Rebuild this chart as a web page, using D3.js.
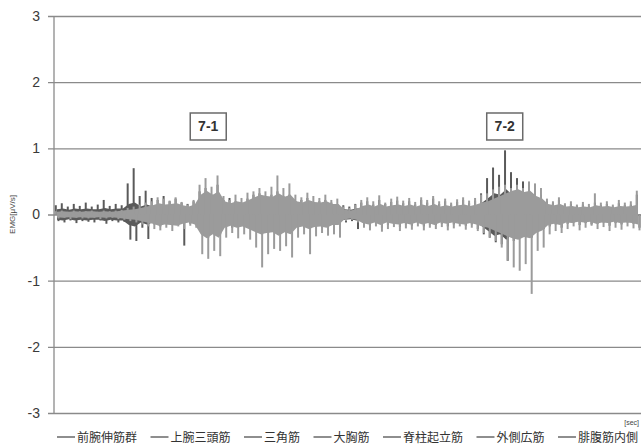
<!DOCTYPE html>
<html>
<head>
<meta charset="utf-8">
<script src="https://cdn.jsdelivr.net/npm/d3@7"></script>
<style>
  body { margin: 0; background: #fff; }
  svg { display: block; }
</style>
</head>
<body>
<div id="chart"></div>
<script>
// legend names (7 muscles)
var seriesNames = ['前腕伸筋群', '上腕三頭筋', '三角筋', '大胸筋', '脊柱起立筋', '外側広筋', '腓腹筋内側'];
var yTicks = [3, 2, 1, 0, -1, -2, -3];

// EMG traces, one value per time bin
// dark trace: upper / lower spike peaks
var darkHi = [0.14,0.17,0.12,0.16,0.13,0.18,0.12,0.15,0.22,0.13,0.16,0.14,
  0.47,0.70,0.28,0.36,
  0.25,0.22,0.28,0.20,0.24,0.18,0.16,0.20,
  0.35,0.40,0.30,0.45,
  0.22,0.25,0.20,0.18,0.24,
  0.30,0.32,0.25,0.30,0.35,0.28,0.30,
  0.20,0.22,0.25,0.18,0.20,0.22,0.18,0.15,
  0.14,0.12,0.16,
  0.18,0.20,0.15,0.22,0.16,0.19,0.21,0.17,0.20,0.15,0.22,0.18,0.24,0.16,0.20,0.15,0.19,0.22,0.17,0.21,
  0.32,0.55,0.71,0.60,0.97,0.64,0.55,0.50,0.45,0.35,0.30,
  0.20,0.18,0.22,
  0.14,0.16,0.13,0.15,0.12,0.18,0.14,0.16,0.12,0.17,0.14,0.15,0.30];
var darkLo = [-0.10,-0.12,-0.09,-0.13,-0.10,-0.11,-0.12,-0.09,-0.14,-0.10,-0.12,-0.11,
  -0.38,-0.40,-0.20,-0.37,
  -0.15,-0.18,-0.14,-0.16,-0.12,-0.47,-0.14,-0.12,
  -0.30,-0.35,-0.25,-0.30,
  -0.15,-0.20,-0.18,-0.15,-0.22,
  -0.25,-0.30,-0.28,-0.25,-0.30,-0.22,-0.25,
  -0.18,-0.20,-0.22,-0.18,-0.20,-0.15,-0.18,-0.15,
  -0.12,-0.10,-0.22,
  -0.15,-0.18,-0.12,-0.20,-0.16,-0.14,-0.19,-0.15,-0.17,-0.13,-0.18,-0.15,-0.16,-0.14,-0.18,-0.15,-0.13,-0.17,-0.15,-0.22,
  -0.30,-0.35,-0.42,-0.45,-0.70,-0.40,-0.35,-0.30,-0.35,-0.25,-0.22,
  -0.18,-0.15,-0.20,
  -0.14,-0.12,-0.16,-0.13,-0.15,-0.14,-0.12,-0.17,-0.13,-0.15,-0.12,-0.14,-0.20];
// dark trace: half-width of the dense band
var darkCore = [0.08,0.09,0.07,0.09,0.08,0.09,0.08,0.08,0.10,0.08,0.09,0.09,
  0.16,0.18,0.12,0.15,
  0.12,0.12,0.13,0.11,0.12,0.12,0.10,0.11,
  0.18,0.20,0.16,0.20,
  0.12,0.13,0.12,0.11,0.13,
  0.15,0.16,0.14,0.15,0.17,0.14,0.15,
  0.12,0.12,0.13,0.11,0.12,0.12,0.11,0.10,
  0.08,0.07,0.09,
  0.10,0.11,0.09,0.12,0.10,0.10,0.11,0.10,0.11,0.09,0.12,0.10,0.12,0.10,0.11,0.09,0.10,0.12,0.10,0.11,
  0.18,0.25,0.32,0.30,0.38,0.30,0.26,0.22,0.22,0.18,0.16,
  0.12,0.11,0.12,
  0.09,0.10,0.08,0.09,0.08,0.10,0.09,0.10,0.08,0.10,0.09,0.09,0.12];
// light trace: upper / lower spike peaks
var lightHi = [0.05,0.06,0.04,0.06,0.05,0.05,0.06,0.04,0.06,0.05,0.06,0.07,
  0.10,0.12,0.15,0.18,
  0.20,0.26,0.24,0.21,0.26,0.19,0.15,0.22,
  0.45,0.55,0.42,0.59,
  0.28,0.22,0.30,0.25,0.33,
  0.35,0.40,0.35,0.42,0.59,0.40,0.47,
  0.30,0.26,0.33,0.28,0.25,0.30,0.22,0.24,
  0.12,0.10,0.15,
  0.22,0.26,0.20,0.29,0.18,0.24,0.27,0.21,0.25,0.19,0.26,0.22,0.28,0.20,0.24,0.18,0.23,0.26,0.21,0.25,
  0.30,0.32,0.38,0.42,0.45,0.40,0.45,0.40,0.50,0.47,0.40,
  0.24,0.20,0.26,
  0.17,0.20,0.15,0.19,0.16,0.32,0.18,0.20,0.15,0.22,0.18,0.20,0.36];
var lightLo = [-0.06,-0.05,-0.07,-0.05,-0.06,-0.06,-0.05,-0.07,-0.06,-0.05,-0.07,-0.08,
  -0.10,-0.12,-0.15,-0.18,
  -0.22,-0.24,-0.20,-0.25,-0.18,-0.22,-0.17,-0.20,
  -0.60,-0.67,-0.55,-0.63,
  -0.35,-0.28,-0.36,-0.30,-0.38,
  -0.50,-0.80,-0.60,-0.52,-0.55,-0.48,-0.65,
  -0.35,-0.30,-0.60,-0.33,-0.28,-0.32,-0.30,-0.35,
  -0.10,-0.08,-0.12,
  -0.20,-0.24,-0.18,-0.26,-0.22,-0.19,-0.25,-0.21,-0.23,-0.18,-0.24,-0.20,-0.22,-0.19,-0.24,-0.21,-0.18,-0.23,-0.20,-0.25,
  -0.28,-0.35,-0.40,-0.50,-0.70,-0.80,-0.85,-0.75,-1.20,-0.55,-0.50,
  -0.30,-0.25,-0.28,
  -0.22,-0.18,-0.24,-0.20,-0.17,-0.22,-0.19,-0.25,-0.20,-0.23,-0.18,-0.21,-0.24];
// light trace: half-width of the dense band
var lightCore = [0.04,0.05,0.04,0.05,0.04,0.05,0.05,0.04,0.05,0.04,0.05,0.06,
  0.07,0.08,0.10,0.12,
  0.14,0.17,0.15,0.16,0.17,0.14,0.12,0.15,
  0.30,0.36,0.30,0.35,
  0.20,0.17,0.20,0.18,0.22,
  0.26,0.30,0.28,0.27,0.32,0.27,0.30,
  0.20,0.18,0.22,0.19,0.18,0.20,0.16,0.16,
  0.07,0.06,0.08,
  0.13,0.15,0.12,0.16,0.12,0.14,0.15,0.13,0.15,0.12,0.15,0.13,0.16,0.12,0.14,0.12,0.14,0.15,0.13,0.15,
  0.18,0.20,0.24,0.28,0.32,0.36,0.38,0.34,0.36,0.28,0.24,
  0.16,0.14,0.16,
  0.12,0.13,0.11,0.12,0.11,0.14,0.12,0.13,0.11,0.13,0.12,0.13,0.15];

// phase labels: bin position and height
var phaseLabels = ['7-1', '7-2'];
var phaseBins = [25.75, 75.25];
var phaseY = 1.33;

var width = 641, height = 444;
var margin = {top: 16, right: 0, bottom: 31, left: 54};

var svg = d3.select('#chart').append('svg')
    .attr('width', width)
    .attr('height', height);

var x = d3.scaleLinear().domain([0, darkHi.length]).range([margin.left, width - margin.right]);
var y = d3.scaleLinear().domain([-3, 3]).range([height - margin.bottom, margin.top]);

// gridlines + ticks
var yAxis = d3.axisLeft(y).tickValues(yTicks)
    .tickFormat(function (d) { return String(d); })
    .tickSize(-(width - margin.left - margin.right)).tickPadding(14);
var gy = svg.append('g').attr('transform', 'translate(' + margin.left + ',0)').call(yAxis);
gy.select('.domain').remove();
gy.selectAll('.tick line').attr('stroke', '#8a8a8a').attr('stroke-width', 1.3).attr('x1', -6);
gy.selectAll('.tick text')
    .attr('fill', '#3a3a3a')
    .style('font-family', 'Liberation Sans, Arial, sans-serif')
    .style('font-size', '14px');

// vertical axis line
svg.append('line')
    .attr('x1', margin.left).attr('x2', margin.left)
    .attr('y1', y(3)).attr('y2', y(-3))
    .attr('stroke', '#8a8a8a').attr('stroke-width', 1.3);

var bins = d3.range(darkHi.length);

function drawTrace(hi, lo, core, color) {
    var g = svg.append('g');
    // dense band
    g.append('path')
        .datum(bins)
        .attr('d', d3.area()
            .x(function (i) { return x(i + 0.5); })
            .y0(function (i) { return y(-core[i]); })
            .y1(function (i) { return y(core[i]); }))
        .attr('fill', color);
    // upward spikes
    g.selectAll('line.up').data(bins).enter().append('line')
        .attr('x1', function (i) { return x(i + 0.3); })
        .attr('x2', function (i) { return x(i + 0.3); })
        .attr('y1', y(0))
        .attr('y2', function (i) { return y(hi[i]); })
        .attr('stroke', color).attr('stroke-width', 2);
    // downward spikes
    g.selectAll('line.down').data(bins).enter().append('line')
        .attr('x1', function (i) { return x(i + 0.75); })
        .attr('x2', function (i) { return x(i + 0.75); })
        .attr('y1', y(0))
        .attr('y2', function (i) { return y(lo[i]); })
        .attr('stroke', color).attr('stroke-width', 2);
}

drawTrace(darkHi, darkLo, darkCore, '#5a5a5a');
drawTrace(lightHi, lightLo, lightCore, '#9b9b9b');

// phase boxes
phaseLabels.forEach(function (lab, k) {
    var cx = x(phaseBins[k]), cy = y(phaseY);
    svg.append('rect')
        .attr('x', cx - 18).attr('y', cy - 13.5)
        .attr('width', 36).attr('height', 27)
        .attr('fill', '#fff').attr('stroke', '#6a6a6a').attr('stroke-width', 1.5);
    svg.append('text')
        .attr('x', cx).attr('y', cy + 5)
        .attr('text-anchor', 'middle')
        .style('font-family', 'Liberation Sans, Arial, sans-serif')
        .style('font-size', '14px').style('font-weight', 'bold')
        .attr('fill', '#333')
        .text(lab);
});

// axis titles
svg.append('text')
    .attr('transform', 'translate(15,' + y(0) + ') rotate(-90)')
    .attr('text-anchor', 'middle')
    .style('font-family', 'Liberation Sans, Arial, sans-serif')
    .style('font-size', '8px')
    .attr('fill', '#444')
    .text('EMG[μV/s]');

svg.append('text')
    .attr('x', 639).attr('y', 425)
    .attr('text-anchor', 'end')
    .style('font-family', 'Liberation Sans, Arial, sans-serif')
    .style('font-size', '7px')
    .attr('fill', '#444')
    .text('[sec]');

// legend
var leg = svg.append('g');
var items = leg.selectAll('g').data(seriesNames).enter().append('g');
items.append('line').attr('x1', 0).attr('x2', 18).attr('y1', 0).attr('y2', 0)
    .attr('stroke', '#444').attr('stroke-width', 1.2);
items.append('text').attr('x', 20).attr('y', 4.5)
    .style('font-family', 'Noto Sans CJK JP, sans-serif')
    .style('font-size', '12px')
    .attr('fill', '#333')
    .text(function (d) { return d; });
var widths = [];
items.each(function () { widths.push(20 + d3.select(this).select('text').node().getComputedTextLength()); });
var legStart = 57, legEnd = 638;
var gap = (legEnd - legStart - d3.sum(widths)) / (seriesNames.length - 1);
var pos = legStart;
items.attr('transform', function (d, i) {
    var t = 'translate(' + pos + ',437)';
    pos += widths[i] + gap;
    return t;
});
</script>
</body>
</html>
